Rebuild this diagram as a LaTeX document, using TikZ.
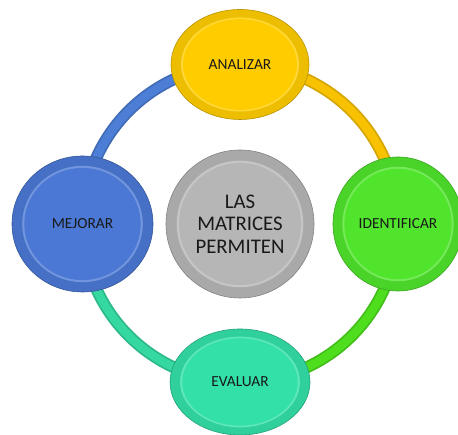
\documentclass[tikz,border=0pt]{standalone}
\usepackage{fontspec}
\setmainfont{Carlito}
\usetikzlibrary{shapes.geometric, positioning, calc, backgrounds}

\definecolor{amarillo}{RGB}{255,204,0}
\definecolor{verde}{RGB}{80,228,44}
\definecolor{turquesa}{RGB}{50,224,168}
\definecolor{azul}{RGB}{74,120,212}
\definecolor{gris}{RGB}{182,182,182}
\definecolor{anilloazul}{RGB}{76,126,214}
\definecolor{anilloamarillo}{RGB}{248,194,0}
\definecolor{anilloverde}{RGB}{78,222,30}
\definecolor{anilloturquesa}{RGB}{52,216,160}

\tikzset{
  bola/.style={ellipse, draw=#1!72!black, line width=0.6pt, fill=#1!93!black,
    text=black!90, font=\fontsize{15.4}{18}\selectfont, inner sep=0pt,
    path picture={
      \fill[#1!78!white] let \p1=($(path picture bounding box.north east)-(path picture bounding box.center)$) in
        (path picture bounding box.center) ellipse [x radius=0.855*\x1, y radius=0.855*\y1];
      \fill[#1] let \p1=($(path picture bounding box.north east)-(path picture bounding box.center)$) in
        (path picture bounding box.center) ellipse [x radius=0.825*\x1, y radius=0.825*\y1];
    }},
  anillo/.style={line width=12pt, draw=#1!85!black, postaction={draw=#1, line width=8.5pt}}
}

\begin{document}
\begin{tikzpicture}[x=1pt, y=1pt, node distance=158pt, on grid]
  \useasboundingbox (0,0) rectangle (458,435);

  % centro y las cuatro bolas
  \node[bola=gris, circle, minimum size=148pt, align=center,
        font=\fontsize{20.8}{22.5}\selectfont] (centro) at (240,211) {LAS\\MATRICES\\PERMITEN};
  \node[bola=amarillo, minimum width=138pt, minimum height=110pt] (analizar) [above=159.5pt of centro] {ANALIZAR};
  \node[bola=verde, minimum width=130pt, minimum height=134pt] (identificar) [right=158pt of centro] {IDENTIFICAR};
  \node[bola=turquesa, minimum width=140pt, minimum height=106pt] (evaluar) [below=158pt of centro] {EVALUAR};
  \node[bola=azul, minimum width=141pt, minimum height=136pt] (mejorar) [left=157.5pt of centro] {MEJORAR};

  % anillo
  \begin{scope}[on background layer]
    \draw[anillo=anilloazul] (mejorar.center) to[bend left=45] (analizar.center);
    \draw[anillo=anilloamarillo] (analizar.center) to[bend left=45] (identificar.center);
    \draw[anillo=anilloverde] (identificar.center) to[bend left=45] (evaluar.center);
    \draw[anillo=anilloturquesa] (evaluar.center) to[bend left=45] (mejorar.center);
  \end{scope}
\end{tikzpicture}
\end{document}
